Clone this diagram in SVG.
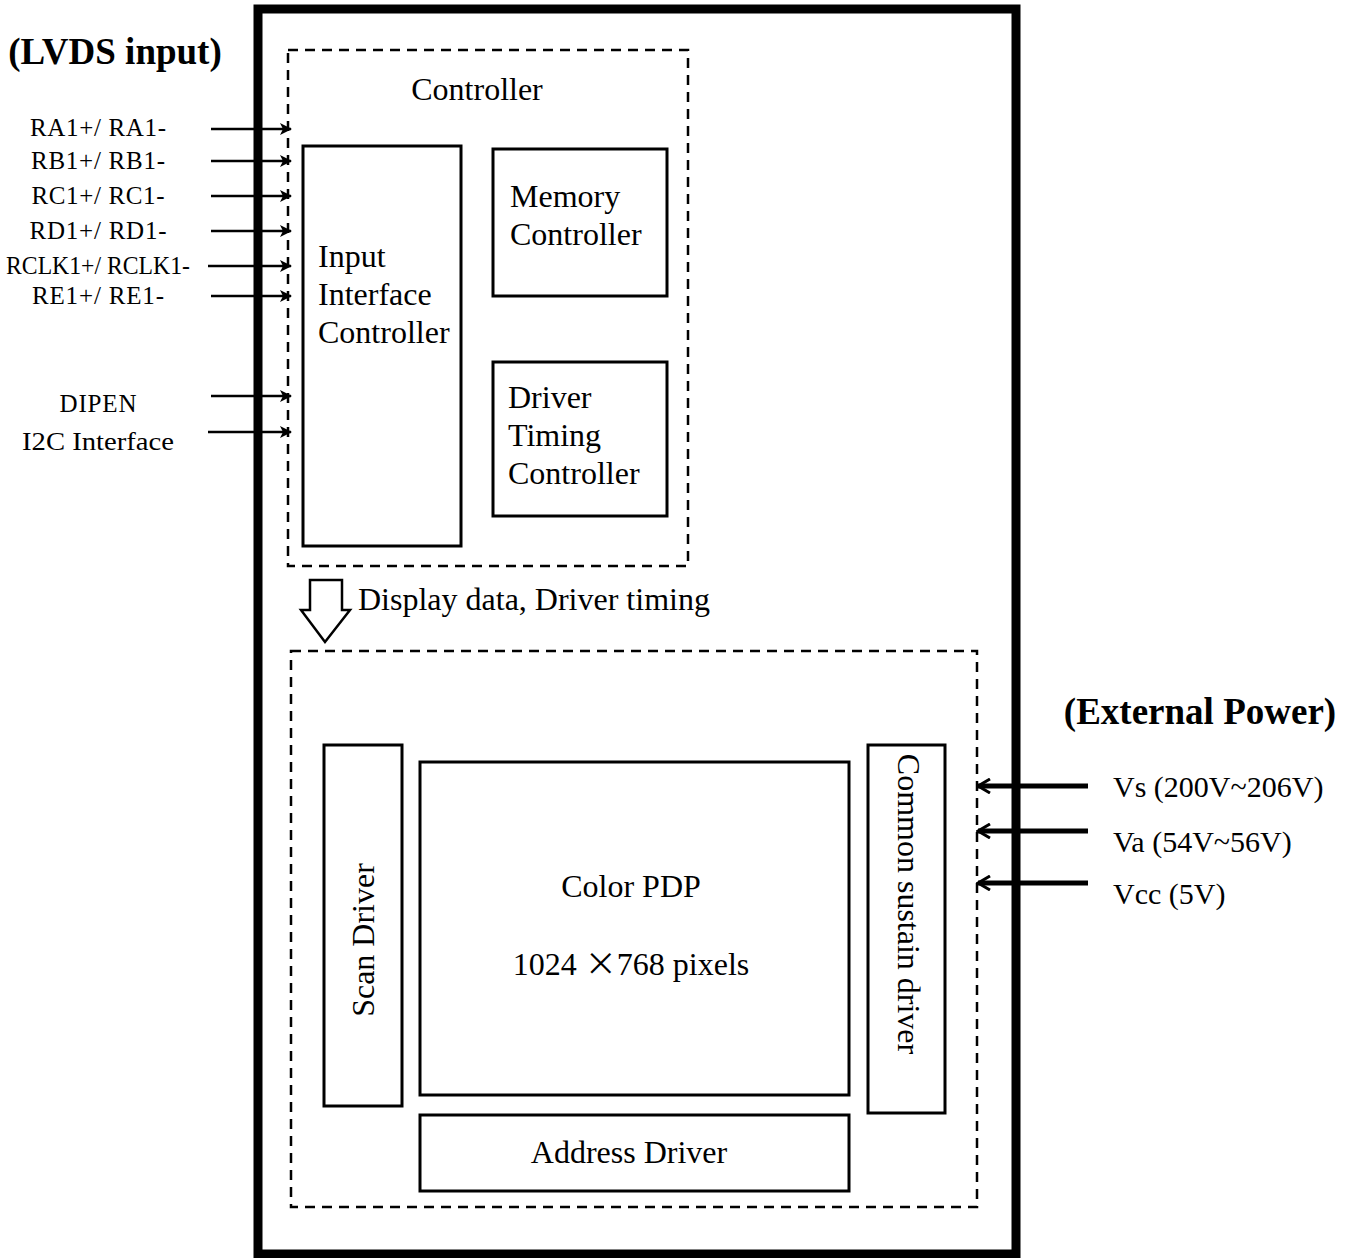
<svg xmlns="http://www.w3.org/2000/svg" width="1354" height="1258" viewBox="0 0 1354 1258">
<style>
text{font-family:"Liberation Serif","Times New Roman",serif;fill:#000}
.box{fill:#fff;stroke:#000;stroke-width:3}
.dash{fill:none;stroke:#000;stroke-width:2.5;stroke-dasharray:10,7}
.t32{font-size:32px}
.t30{font-size:30px}
.t24{font-size:25px}
.bold{font-size:37px;font-weight:bold}
.in{stroke:#000;stroke-width:2.5;fill:none;marker-end:url(#ah)}
.pw{stroke:#000;stroke-width:5;fill:none;marker-end:url(#ah2)}
</style>
<defs>
<marker id="ah" viewBox="0 0 12 12" refX="11" refY="6" markerWidth="12" markerHeight="12" markerUnits="userSpaceOnUse" orient="auto">
<path d="M0,0 L12,6 L0,12 L3,6 Z" fill="#000"/>
</marker>
<marker id="ah2" viewBox="0 0 16 16" refX="14" refY="8" markerWidth="16" markerHeight="16" markerUnits="userSpaceOnUse" orient="auto">
<path d="M2,1 L14,8 L2,15" fill="none" stroke="#000" stroke-width="3"/>
</marker>
</defs>
<rect x="0" y="0" width="1354" height="1258" fill="#fff"/>
<g id="outer"><rect x="258" y="9" width="758" height="1245" fill="none" stroke="#000" stroke-width="9"/></g>
<g id="controller">
<rect class="dash" x="288" y="50" width="400" height="516"/>
<text class="t32" x="477" y="100" text-anchor="middle">Controller</text>
</g>
<g id="input-interface">
<rect class="box" x="303" y="146" width="158" height="400"/>
<text class="t32" x="318" y="267">Input</text>
<text class="t32" x="318" y="305">Interface</text>
<text class="t32" x="318" y="343">Controller</text>
</g>
<g id="memory">
<rect class="box" x="493" y="149" width="174" height="147"/>
<text class="t32" x="510" y="207">Memory</text>
<text class="t32" x="510" y="245">Controller</text>
</g>
<g id="timing">
<rect class="box" x="493" y="362" width="174" height="154"/>
<text class="t32" x="508" y="408">Driver</text>
<text class="t32" x="508" y="446">Timing</text>
<text class="t32" x="508" y="484">Controller</text>
</g>
<g id="panel">
<rect class="dash" x="291" y="651" width="686" height="556"/>
</g>
<g id="scan">
<rect class="box" x="324" y="745" width="78" height="361"/>
<text class="t32" transform="translate(374,940) rotate(-90)" text-anchor="middle">Scan Driver</text>
</g>
<g id="pdp">
<rect class="box" x="420" y="762" width="429" height="333"/>
<text class="t32" x="631" y="897" text-anchor="middle">Color PDP</text>
<text class="t32" x="631" y="975" text-anchor="middle">1024 <tspan font-family="'Noto Sans CJK SC',sans-serif">×</tspan>768 pixels</text>
</g>
<g id="sustain">
<rect class="box" x="868" y="745" width="77" height="368"/>
<text class="t32" transform="translate(898,904) rotate(90)" text-anchor="middle">Common sustain driver</text>
</g>
<g id="address">
<rect class="box" x="420" y="1115" width="429" height="76"/>
<text class="t32" x="629" y="1163" text-anchor="middle">Address Driver</text>
</g>
<g id="labels">
<text class="bold" x="115" y="64" text-anchor="middle">(LVDS input)</text>
<text class="bold" x="1200" y="724" text-anchor="middle">(External Power)</text>
<text class="t24" x="98" y="136" text-anchor="middle" textLength="136">RA1+/ RA1-</text>
<text class="t24" x="98" y="169" text-anchor="middle" textLength="134">RB1+/ RB1-</text>
<text class="t24" x="98" y="204" text-anchor="middle" textLength="133">RC1+/ RC1-</text>
<text class="t24" x="98" y="239" text-anchor="middle" textLength="137">RD1+/ RD1-</text>
<text class="t24" x="98" y="274" text-anchor="middle" textLength="184" lengthAdjust="spacingAndGlyphs">RCLK1+/ RCLK1-</text>
<text class="t24" x="98" y="304" text-anchor="middle" textLength="132">RE1+/ RE1-</text>
<text class="t24" x="98" y="412" text-anchor="middle" textLength="77">DIPEN</text>
<text class="t24" x="98" y="450" text-anchor="middle" textLength="152" lengthAdjust="spacingAndGlyphs">I2C Interface</text>
<text class="t30" x="1113" y="797">Vs (200V~206V)</text>
<text class="t30" x="1113" y="852">Va (54V~56V)</text>
<text class="t30" x="1113" y="904">Vcc (5V)</text>
<text class="t32" x="358" y="610">Display data, Driver timing</text>
</g>
<g id="connectors">
<line class="in" x1="211" y1="129" x2="291" y2="129"/>
<line class="in" x1="211" y1="161" x2="291" y2="161"/>
<line class="in" x1="211" y1="196" x2="291" y2="196"/>
<line class="in" x1="211" y1="231" x2="291" y2="231"/>
<line class="in" x1="208" y1="266" x2="291" y2="266"/>
<line class="in" x1="211" y1="296" x2="291" y2="296"/>
<line class="in" x1="211" y1="396" x2="291" y2="396"/>
<line class="in" x1="208" y1="432" x2="291" y2="432"/>
<line class="pw" x1="1088" y1="786" x2="978" y2="786"/>
<line class="pw" x1="1088" y1="831" x2="978" y2="831"/>
<line class="pw" x1="1088" y1="883" x2="978" y2="883"/>
<path d="M310,580 L342,580 L342,610 L350,610 L325,642 L301,610 L310,610 Z" fill="#fff" stroke="#000" stroke-width="2.5"/>
</g>
</svg>
